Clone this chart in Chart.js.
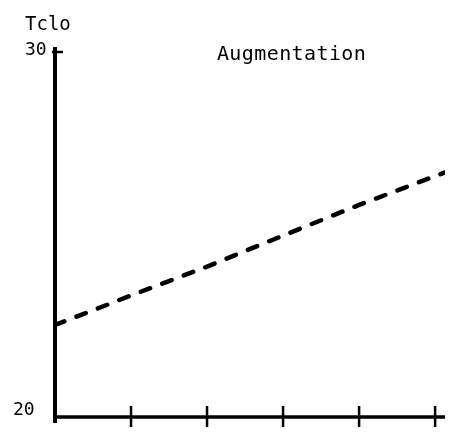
<!DOCTYPE html>
<html>
<head>
<meta charset="utf-8">
<script src="https://cdn.jsdelivr.net/npm/chart.js@4/dist/chart.umd.min.js"></script>
<style>
  html, body { margin: 0; padding: 0; background: #fff; }
  canvas { display: block; }
</style>
</head>
<body>
<canvas id="c" width="455" height="435"></canvas>
<script>
// Tclo rising with the augmentation step (dashed curve)
const xTicks = [0, 1, 2, 3, 4, 5];
const yTicks = [20, 30];
const tcloX = [0, 1, 2, 3, 4, 5, 5.13];
const tcloY = [22.52, 23.33, 24.12, 24.97, 25.81, 26.60, 26.70];

const yTitle = 'Tclo';
const curveLabel = 'Augmentation';

const points = tcloX.map((x, i) => ({ x: x, y: tcloY[i] }));

// Hand-drawn style axes: thick lines, crossing tick marks, sparse labels
const axesPlugin = {
  id: 'plainAxes',
  afterDatasetsDraw(chart) {
    const ctx = chart.ctx;
    const xs = chart.scales.x;
    const ys = chart.scales.y;
    const x0 = xs.getPixelForValue(xTicks[0]);
    const yBottom = ys.getPixelForValue(yTicks[0]);
    const yTop = ys.getPixelForValue(yTicks[yTicks.length - 1]);
    ctx.save();
    ctx.strokeStyle = '#000';
    ctx.lineCap = 'butt';

    // vertical axis
    ctx.lineWidth = 4;
    ctx.beginPath();
    ctx.moveTo(x0, yTop - 5);
    ctx.lineTo(x0, yBottom + 6);
    ctx.stroke();

    // horizontal axis
    ctx.lineWidth = 3.5;
    ctx.beginPath();
    ctx.moveTo(x0 - 2, yBottom);
    ctx.lineTo(chart.chartArea.right, yBottom);
    ctx.stroke();

    // x tick crosses
    ctx.lineWidth = 2.5;
    xTicks.slice(1).forEach(v => {
      const px = xs.getPixelForValue(v);
      ctx.beginPath();
      ctx.moveTo(px, yBottom - 11);
      ctx.lineTo(px, yBottom + 10);
      ctx.stroke();
    });

    // top y tick
    ctx.beginPath();
    ctx.moveTo(x0 - 3, yTop);
    ctx.lineTo(x0 + 8, yTop);
    ctx.stroke();

    // labels
    ctx.fillStyle = '#000';
    ctx.textBaseline = 'alphabetic';
    ctx.textAlign = 'left';
    ctx.font = '18px "DejaVu Sans Mono"';
    ctx.fillText(String(yTicks[1]), x0 - 30, yTop + 3);
    ctx.fillText(String(yTicks[0]), x0 - 42, yBottom - 2);
    ctx.font = '19px "DejaVu Sans Mono"';
    ctx.fillText(yTitle, x0 - 30, yTop - 22);
    ctx.font = '20px "DejaVu Sans Mono"';
    if ('letterSpacing' in ctx) ctx.letterSpacing = '0.4px';
    ctx.fillText(curveLabel, xs.getPixelForValue(2.13), yTop + 8);
    ctx.restore();
  }
};

new Chart(document.getElementById('c'), {
  type: 'line',
  data: {
    datasets: [{
      label: curveLabel,
      data: points,
      borderColor: '#000',
      borderWidth: 4.5,
      borderDash: [10, 13],
      borderCapStyle: 'round',
      pointRadius: 0,
      tension: 0,
      fill: false
    }]
  },
  options: {
    responsive: false,
    animation: false,
    layout: { padding: { left: 55, top: 52, right: 10, bottom: 18 } },
    plugins: { legend: { display: false }, tooltip: { enabled: false } },
    scales: {
      x: { type: 'linear', display: false, min: 0, max: 5.13 },
      y: { type: 'linear', display: false, min: 20, max: 30 }
    }
  },
  plugins: [axesPlugin]
});
</script>
</body>
</html>
